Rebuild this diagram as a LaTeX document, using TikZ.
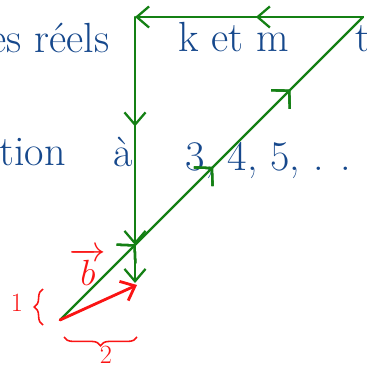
\documentclass[tikz,border=0pt]{standalone}
\usepackage{tikz}
\usetikzlibrary{arrows.meta,decorations.markings,decorations.pathreplacing}
\definecolor{InkGreen}{RGB}{ 20,128, 20}
\definecolor{InkBlue} {RGB}{ 22, 72,140}
\definecolor{InkRed}  {RGB}{250, 20, 20}
\tikzset{
  %% 手写文字
  inkblue/.style={text=InkBlue,font=\fontsize{24}{28}\selectfont,inner sep=0pt},
  inkred/.style={text=InkRed,font=\fontsize{20}{24}\selectfont,inner sep=0pt},
  inkdigit/.style={text=InkRed,font=\fontsize{15}{17}\selectfont,inner sep=0pt},
  %% 绿色路径与箭头
  grline/.style={draw=InkGreen,line width=1.3pt,line cap=round,line join=round},
  grtip/.style={-{Straight Barb[length=7pt,width=12pt,line width=1.3pt]}},
  grmid/.style={postaction={decorate},
                decoration={markings,mark=at position #1 with
                  {\arrow{Straight Barb[length=7pt,width=12pt,line width=1.3pt]}}}},
  grdmid/.style={postaction={decorate},
                 decoration={markings,mark=at position #1 with
                   {\arrow{Straight Barb[length=7pt,width=15pt,line width=1.3pt]}}}},
  %% 红色向量
  rdarr/.style={draw=InkRed,line width=1.6pt,line cap=round,
                -{Straight Barb[length=7pt,width=12pt,line width=1.6pt]}},
  rdbrace/.style={draw=InkRed,line width=0.9pt,decorate},
}
\begin{document}
\begin{tikzpicture}[x=0.02cm,y=-0.02cm]
    \useasboundingbox (0,0) rectangle (367,367);
    \clip (0,0) rectangle (367,367);

    %% ── 三角形的角点 ──────────────────────────────
    \coordinate (tr)   at (363,17);
    \coordinate (tl)   at (135,17);
    \coordinate (mid)  at (135,245);
    \coordinate (bot)  at (135,283);
    \coordinate (orig) at (60,320);
    \coordinate (rtip) at (137,285);

    %% 蓝色文字
    \node[inkblue,anchor=base east] (reels) at (110,53) {les réels};
    \node[inkblue,anchor=base west] (ketm)  at (178,52) {k et m};
    \node[inkblue,anchor=base west] (tlbl)  at (355,52) {t};
    \node[inkblue,anchor=base east] (nition) at (66,166) {nition};
    \node[inkblue,anchor=base east] (agrave) at (133,167) {à};
    \node[inkblue,anchor=base west] (suite) at (185,171) {3, 4, 5, . . .};

    %% ── 绿色路径 ──────────────────────────────────
    \draw[grline,grtip,grmid=0.47] (tr) -- (tl);
    \draw[grline,grtip,grmid=0.48] (tl) -- (mid);
    \draw[grline,grtip] (mid) -- (bot);
    \draw[grline,grdmid=0.25,grdmid=0.505,grdmid=0.76] (orig) -- (tr);

    %% ── 红色向量与标注 ────────────────────────────
    \draw[rdarr] (orig) -- (rtip);
    \node[inkred,anchor=base] (vecb) at (88,285) {$\overrightarrow{b}$};
    \node[inkdigit,anchor=base] (un)   at (17,311) {1};
    \node[inkdigit,anchor=base] (deux) at (106,363) {2};
    \draw[rdbrace,decoration={brace,amplitude=5pt}] (43,325) -- (43,289);
    \draw[rdbrace,decoration={brace,mirror,amplitude=5pt}] (64,337) -- (137,337);
  \end{tikzpicture}
\end{document}
